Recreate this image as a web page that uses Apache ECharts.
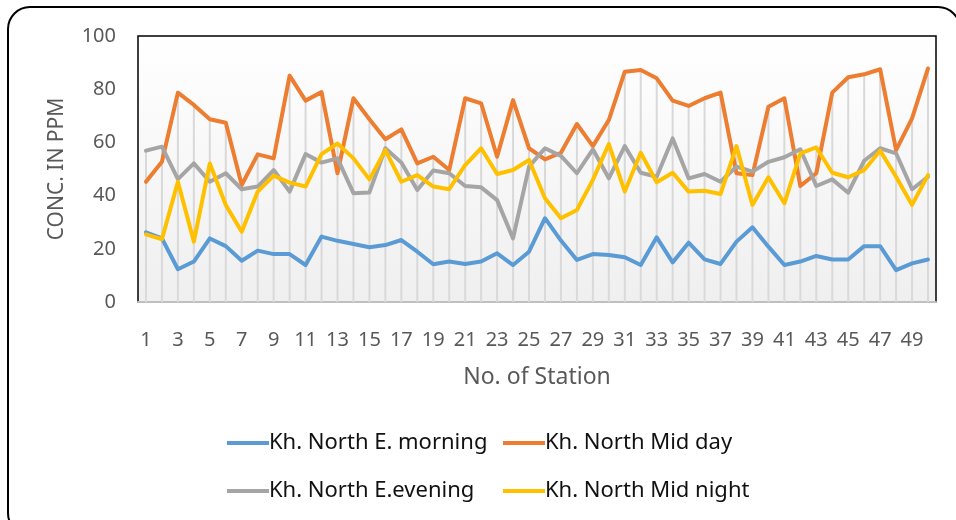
<!DOCTYPE html>
<html>
<head>
<meta charset="utf-8">
<script src="https://cdn.jsdelivr.net/npm/echarts@6/dist/echarts.min.js"></script>
<style>
  html, body { margin: 0; padding: 0; background: #fff; }
  #chart { width: 956px; height: 520px; }
</style>
</head>
<body>
<div id="chart"></div>
<script>
// Station numbers 1..50
const stations = ['1','2','3','4','5','6','7','8','9','10','11','12','13','14','15','16','17','18','19','20',
  '21','22','23','24','25','26','27','28','29','30','31','32','33','34','35','36','37','38','39','40',
  '41','42','43','44','45','46','47','48','49','50'];

const yTicks = [0, 20, 40, 60, 80, 100];

// Concentrations (ppm) per station
const morning = [26.2, 23.9, 12.3, 15.2, 23.9, 21.0, 15.5, 19.3, 18.0, 18.0,
  13.9, 24.6, 23.0, 21.8, 20.6, 21.4, 23.3, 18.9, 14.2, 15.2,
  14.3, 15.2, 18.3, 13.9, 18.9, 31.5, 23.1, 15.8, 18.0, 17.7,
  16.8, 13.9, 24.3, 14.9, 22.3, 16.0, 14.3, 22.7, 28.1, 20.8,
  13.9, 15.2, 17.3, 16.0, 16.0, 21.0, 21.0, 12.0, 14.5, 16.0];

const midDay = [45.2, 52.7, 78.7, 74.1, 68.7, 67.4, 44.0, 55.5, 54.0, 85.1,
  75.7, 78.9, 48.4, 76.6, 68.7, 61.2, 64.9, 52.1, 54.6, 49.6,
  76.6, 74.7, 54.6, 75.9, 57.8, 53.6, 56.1, 66.9, 58.6, 68.4,
  86.6, 87.2, 84.1, 75.7, 73.7, 76.6, 78.7, 48.4, 47.7, 73.4,
  76.6, 43.6, 48.4, 78.7, 84.5, 85.6, 87.5, 57.1, 69.0, 87.8];

const evening = [56.9, 58.4, 46.2, 52.1, 45.2, 48.4, 42.4, 43.4, 49.6, 41.5,
  55.6, 52.4, 54.0, 40.9, 41.2, 57.8, 52.4, 42.1, 49.4, 48.4,
  43.6, 43.1, 38.3, 23.9, 50.9, 57.8, 54.9, 48.4, 57.4, 46.5,
  58.6, 48.6, 47.1, 61.5, 46.5, 48.1, 45.2, 50.9, 49.0, 52.7,
  54.4, 57.4, 43.6, 46.1, 41.1, 53.1, 57.8, 55.9, 42.4, 47.1];

const midNight = [25.4, 23.6, 45.2, 22.7, 52.1, 36.5, 26.4, 41.5, 47.5, 44.9,
  43.4, 55.6, 59.6, 54.0, 46.1, 57.1, 45.2, 47.7, 43.4, 42.4,
  51.5, 57.8, 48.1, 49.6, 53.4, 39.0, 31.5, 34.6, 45.9, 59.4,
  41.5, 56.1, 45.0, 48.6, 41.5, 41.8, 40.6, 58.6, 36.5, 46.9,
  37.1, 55.9, 58.1, 48.6, 46.9, 49.6, 56.9, 47.1, 36.5, 47.7];

const names = ['Kh. North E. morning', 'Kh. North Mid day', 'Kh. North E.evening', 'Kh. North Mid night'];
const colors = ['#5B9BD5', '#ED7D31', '#A5A5A5', '#FFC000'];
const seriesValues = [morning, midDay, evening, midNight];

// Drop lines run from the highest reading at each station down to the axis
const dropTop = stations.map((_, i) => Math.max(morning[i], midDay[i], evening[i], midNight[i]));

const FONT = 'Noto Sans';

const chart = echarts.init(document.getElementById('chart'));

function legendAt(idx, left, top) {
  return {
    left: left, top: top,
    orient: 'horizontal',
    data: [names[idx]],
    icon: 'rect',
    itemWidth: 42, itemHeight: 4,
    itemGap: 0,
    textStyle: { fontFamily: FONT, fontSize: 22, color: '#111', padding: [0, 0, 0, -5] },
    selectedMode: false
  };
}

chart.setOption({
  animation: false,
  backgroundColor: '#fff',
  graphic: [{
    type: 'rect',
    shape: { x: 8, y: 7, width: 952, height: 528, r: 22 },
    style: { fill: 'none', stroke: '#000', lineWidth: 2 },
    silent: true, z: 100
  }],
  grid: {
    left: 138, right: 20, top: 36, bottom: 218,
    show: true,
    borderColor: '#000', borderWidth: 1.5,
    backgroundColor: {
      type: 'linear', x: 0, y: 0, x2: 0, y2: 1,
      colorStops: [{ offset: 0, color: '#ffffff' }, { offset: 1, color: '#efefef' }]
    }
  },
  legend: [
    legendAt(0, 222, 427),
    legendAt(1, 498, 427),
    legendAt(2, 222, 475),
    legendAt(3, 498, 475)
  ],
  xAxis: {
    type: 'category',
    data: stations,
    boundaryGap: true,
    name: 'No. of Station',
    nameLocation: 'middle',
    nameGap: 64,
    nameTextStyle: { fontFamily: FONT, fontSize: 23, color: '#595959' },
    axisLine: { show: true, lineStyle: { color: '#bfbfbf', width: 2 } },
    axisTick: { show: false },
    axisLabel: { interval: 1, margin: 28, fontFamily: FONT, fontSize: 20, color: '#595959' },
    splitLine: { show: false }
  },
  yAxis: {
    type: 'value',
    min: yTicks[0], max: yTicks[yTicks.length - 1], interval: 20,
    name: 'CONC. IN PPM',
    nameLocation: 'middle',
    nameGap: 70,
    nameTextStyle: { fontFamily: FONT, fontSize: 21, color: '#595959' },
    axisLine: { show: false },
    axisTick: { show: false },
    axisLabel: { margin: 22, fontFamily: FONT, fontSize: 20, color: '#595959' },
    splitLine: { show: false }
  },
  series: [
    {
      name: 'drop',
      type: 'bar',
      data: dropTop,
      barWidth: 2,
      itemStyle: { color: '#d9d9d9' },
      silent: true,
      z: 1
    }
  ].concat(seriesValues.map((vals, i) => ({
    name: names[i],
    type: 'line',
    data: vals,
    symbol: 'none',
    lineStyle: { color: colors[i], width: 4, cap: 'round', join: 'round' },
    itemStyle: { color: colors[i] },
    z: 3 + i
  })))
});
</script>
</body>
</html>
